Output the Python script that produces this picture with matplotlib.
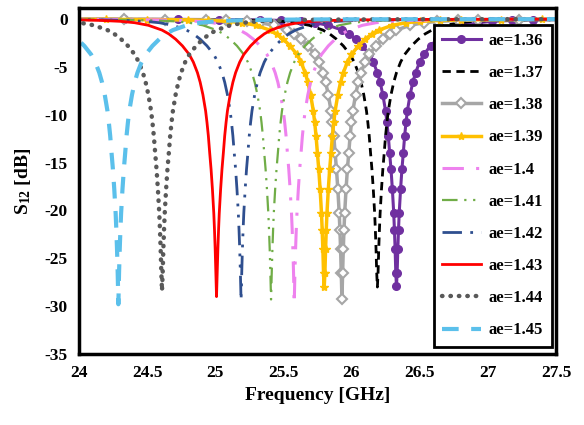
import numpy as np
import matplotlib
matplotlib.use("Agg")
import matplotlib.pyplot as plt

# ---- data ----
labels = ["ae=1.36", "ae=1.37", "ae=1.38", "ae=1.39", "ae=1.4",
          "ae=1.41", "ae=1.42", "ae=1.43", "ae=1.44", "ae=1.45"]
center_ghz = [26.33, 26.19, 25.93, 25.80, 25.58, 25.41, 25.19, 25.01, 24.61, 24.29]
min_db = [-27.9, -28.0, -29.2, -28.0, -29.8, -29.3, -29.4, -29.0, -28.4, -29.8]

# one-sided detuning from the resonance (GHz) and the S12 level there (dB)
offset_ghz = [0.005, 0.01, 0.015, 0.02, 0.03, 0.04, 0.05, 0.06, 0.07, 0.08,
              0.10, 0.12, 0.14, 0.17, 0.20, 0.25, 0.30, 0.35, 0.40, 0.50,
              0.60, 0.70, 0.85, 1.00, 1.30, 1.60, 2.00, 2.50, 3.00, 3.50]
shape_db = [-26.5, -24.0, -22.0, -20.3, -17.8, -15.7, -14.0, -12.2, -10.8, -9.6,
            -7.9, -6.6, -5.6, -4.5, -3.7, -2.8, -2.1, -1.55, -1.15, -0.65,
            -0.38, -0.24, -0.14, -0.09, -0.05, -0.03, -0.02, -0.01, -0.01, 0.0]

xticks = [24, 24.5, 25, 25.5, 26, 26.5, 27, 27.5]
xtick_labels = ["24", "24.5", "25", "25.5", "26", "26.5", "27", "27.5"]
yticks = [0, -5, -10, -15, -20, -25, -30, -35]

# ---- styles ----
styles = [
    dict(color="#7030A0", lw=2.2, ls="-", marker="o", ms=5.5, mfc="#7030A0", mec="#7030A0"),
    dict(color="black", lw=2.0, ls=(0, (3, 2))),
    dict(color="#A6A6A6", lw=2.5, ls="-", marker="D", ms=5, mfc="white", mec="#A6A6A6", mew=1.5),
    dict(color="#FFC000", lw=2.5, ls="-", marker="*", ms=6, mfc="#FFC000", mec="#FFC000"),
    dict(color="#EE82EE", lw=2.2, ls=(0, (7, 4, 1, 4))),
    dict(color="#70AD47", lw=1.6, ls=(0, (7, 3, 1, 3, 1, 3))),
    dict(color="#2F4F8F", lw=2.0, ls=(0, (7, 3, 1, 3, 1, 3))),
    dict(color="#FF0000", lw=2.0, ls="-"),
    dict(color="#595959", lw=3.2, ls=(0, (0.1, 1.8)), dash_capstyle="round"),
    dict(color="#5BC0EB", lw=3.0, ls=(0, (4, 3))),
]

plt.rcParams["font.family"] = ["Liberation Serif", "DejaVu Serif"]
plt.rcParams["font.weight"] = "bold"
plt.rcParams["axes.unicode_minus"] = False
plt.rcParams["mathtext.fontset"] = "custom"
plt.rcParams["mathtext.rm"] = "Liberation Serif:bold"
plt.rcParams["mathtext.it"] = "Liberation Serif:bold"
plt.rcParams["mathtext.bf"] = "Liberation Serif:bold"

fig = plt.figure(figsize=(5.84, 4.25), dpi=100)
ax = fig.add_axes([0.135, 0.167, 0.817, 0.814])

off = np.array(offset_ghz)
shp = np.array(shape_db)
for lab, c, d, st in zip(labels, center_ghz, min_db, styles):
    x = np.concatenate([c - off[::-1], [c], c + off])
    y = np.concatenate([shp[::-1], [d], shp])
    ax.plot(x, y, label=lab, **st)

ax.set_xlim(24, 27.5)
ax.set_ylim(-35, 1.15)
ax.set_xticks(xticks)
ax.set_xticklabels(xtick_labels)
ax.set_yticks(yticks)
ax.set_yticklabels([str(v) for v in yticks])
ax.tick_params(length=0, labelsize=12.5, pad=8)
for lbl in ax.get_xticklabels() + ax.get_yticklabels():
    lbl.set_fontweight("bold")

for sp in ax.spines.values():
    sp.set_linewidth(2.5)
    sp.set_color("black")

ax.set_xlabel("Frequency [GHz]", fontsize=14, fontweight="bold", labelpad=4)
ax.set_ylabel("S$_{12}$ [dB]", fontsize=14, fontweight="bold", labelpad=8)

leg = ax.legend(loc="upper right", bbox_to_anchor=(0.998, 0.962), frameon=True,
                fancybox=False, framealpha=1, edgecolor="black",
                prop={"family": "Liberation Serif", "weight": "bold", "size": 12},
                handlelength=2.3, handletextpad=0.5, labelspacing=0.97,
                borderpad=0.5, borderaxespad=0.2)
leg.get_frame().set_linewidth(2.0)
leg.set_zorder(10)

fig.savefig("out.png", dpi=100)
